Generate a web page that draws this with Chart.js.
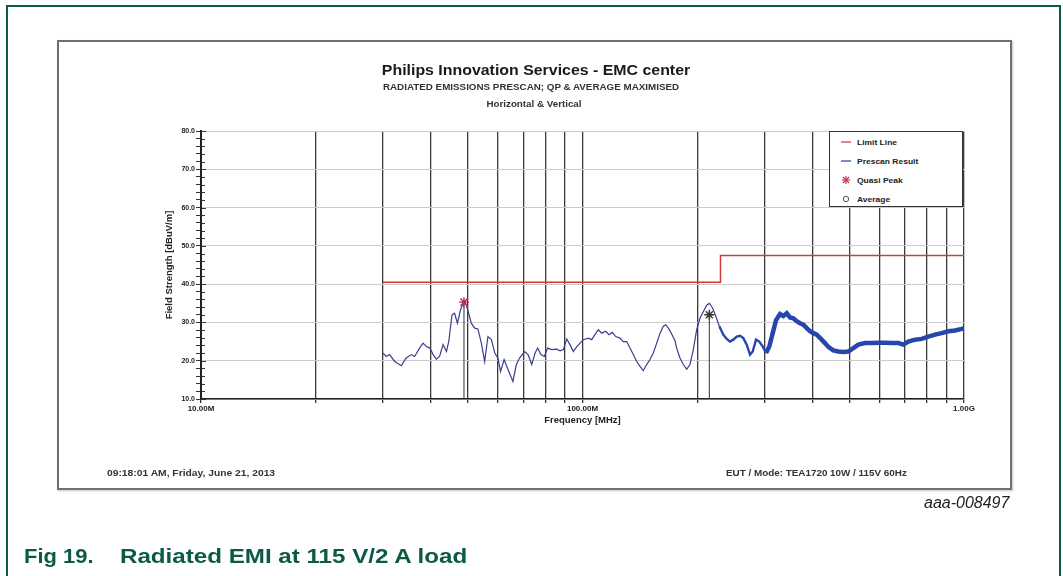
<!DOCTYPE html>
<html><head><meta charset="utf-8">
<script src="https://cdn.jsdelivr.net/npm/chart.js@4.4.1/dist/chart.umd.min.js"></script>
<style>
html,body{margin:0;padding:0;background:#fff;}
body{width:1063px;height:576px;position:relative;overflow:hidden;font-family:"Liberation Sans",Arial,sans-serif;}
#frame{position:absolute;left:6px;top:5px;width:1055px;height:620px;border:2px solid #0b5a48;box-sizing:border-box}
#box{position:absolute;left:57px;top:40px;width:955px;height:450px;border:2px solid #707070;box-sizing:border-box;box-shadow:1px 1px 2px #c8c8c8}
canvas{position:absolute;left:0;top:0}
.t{position:absolute;white-space:nowrap;color:#222;line-height:1;transform-origin:0 50%}
.c{transform-origin:50% 50%}
#legend{position:absolute;left:829px;top:131px;width:134px;height:76px;border:1px solid #333;background:#fff;box-sizing:border-box}
.li{position:absolute;left:0;height:10px;width:134px;font-size:7.5px;font-weight:bold;color:#222}
.li span.lab{position:absolute;left:27px;top:1px;transform:scaleX(1.13);transform-origin:0 50%}
.li svg{position:absolute;left:10px;top:0}
</style></head>
<body>
<div id="frame"></div>
<div id="box"></div>
<canvas id="c" width="1063" height="576"></canvas>
<div class="t c" style="left:536px;top:62px;font-size:15px;font-weight:bold;color:#1a1a1a;transform:translateX(-50%) scaleX(1.06)">Philips Innovation Services - EMC center</div>
<div class="t c" style="left:531px;top:83px;font-size:9px;font-weight:bold;color:#333;transform:translateX(-50%) scaleX(1.09)">RADIATED EMISSIONS PRESCAN; QP &amp; AVERAGE MAXIMISED</div>
<div class="t c" style="left:534px;top:100px;font-size:8.5px;font-weight:bold;color:#333;transform:translateX(-50%) scaleX(1.15)">Horizontal &amp; Vertical</div>
<div class="t" style="left:107px;top:469px;font-size:8.5px;font-weight:bold;color:#333;transform:scaleX(1.21)">09:18:01 AM, Friday, June 21, 2013</div>
<div class="t" style="left:726px;top:469px;font-size:8.5px;font-weight:bold;color:#333;transform:scaleX(1.16)">EUT / Mode: TEA1720 10W / 115V 60Hz</div>
<div class="t" style="left:924px;top:495px;font-size:16px;font-style:italic;color:#222">aaa-008497</div>
<div class="t" style="left:24px;top:545px;font-size:21px;font-weight:bold;color:#0b5a48;transform:scaleX(1.045)">Fig 19.</div>
<div class="t" style="left:120px;top:545px;font-size:21px;font-weight:bold;color:#0b5a48;transform:scaleX(1.15)">Radiated EMI at 115 V/2 A load</div>
<div id="legend">
  <div class="li" style="top:5px"><svg width="12" height="10"><line x1="1" y1="5" x2="11" y2="5" stroke="#d03535" stroke-width="1.2"/></svg><span class="lab">Limit Line</span></div>
  <div class="li" style="top:24px"><svg width="12" height="10"><line x1="1" y1="5" x2="11" y2="5" stroke="#333a8c" stroke-width="1.2"/></svg><span class="lab">Prescan Result</span></div>
  <div class="li" style="top:43px"><svg width="12" height="10"><g stroke="#c0304a" stroke-width="1.1"><line x1="6" y1="1" x2="6" y2="9"/><line x1="2" y1="5" x2="10" y2="5"/><line x1="3" y1="2" x2="9" y2="8"/><line x1="9" y1="2" x2="3" y2="8"/></g></svg><span class="lab">Quasi Peak</span></div>
  <div class="li" style="top:62px"><svg width="12" height="10"><circle cx="6" cy="5" r="2.7" fill="none" stroke="#555" stroke-width="1"/></svg><span class="lab">Average</span></div>
</div>
<script>
// ---- data ----
const traceFreqMHz = [30.0,30.6,31.2,32.2,33.5,34.5,35.6,36.3,37.4,38.2,39.0,39.8,40.6,41.4,42.2,43.1,44.0,44.6,45.5,46.2,47.0,47.9,48.9,49.6,50.3,51.1,52.2,53.2,54.3,55.4,56.5,57.7,58.9,60.0,61.0,62.3,63.8,65.7,67.1,68.4,70.5,72.0,73.6,75.1,76.3,77.8,79.4,81.0,83.0,85.6,87.3,89.1,90.9,92.7,94.6,96.6,98.5,100.5,103.6,105.7,107.8,110.0,112.3,115.0,117.3,119.7,122.2,125.4,127.9,130.6,133.2,135.9,138.7,141.5,144.3,147.3,150.3,153.3,156.5,159.7,162.9,165.3,167.9,171.3,174.8,176.6,180.1,183.7,187.6,191.3,195.2,199.2,203.2,207.3,211.6,215.0,219.4,223.8,228.4,233.9,238.8,243.6,248.5,253.7,258.7,264.0,269.4,274.9,279.4,285.0,290.7,296.8,302.7,308.8,315.2,321.6,329.4,336.0,343.0,349.9,357.0,364.4,371.7,379.2,387.0,394.8,402.7,411.1,423.6,432.1,440.9,454.4,468.3,482.7,497.4,512.7,528.4,550.3,572.8,596.1,620.8,646.4,672.8,693.4,714.5,744.0,774.6,806.0,839.5,874.0,909.5,947.1,986.2,1000];
const traceLevel = [22.0,21.1,21.6,19.8,18.7,20.7,21.6,21.1,23.3,24.6,23.7,23.3,21.6,20.4,21.1,24.2,22.4,25.0,32.0,32.4,29.8,33.3,35.5,34.6,32.4,29.8,28.5,28.3,24.6,19.8,26.3,25.5,22.0,20.7,17.2,20.3,17.7,14.6,19.0,20.7,22.4,21.6,19.0,22.0,23.3,21.6,21.1,23.3,22.9,23.0,22.6,22.9,25.7,24.2,22.4,23.7,24.6,25.5,25.9,25.5,26.8,28.1,27.2,27.7,26.8,27.4,26.3,25.9,25.0,25.0,23.3,21.6,19.8,18.5,17.4,19.0,20.3,22.0,24.6,27.2,29.0,29.4,28.5,27.0,25.2,23.2,20.7,19.0,17.8,19.0,22.9,28.1,31.1,32.8,34.5,35.0,33.7,31.5,29.0,26.8,25.7,25.0,25.5,26.3,26.5,25.9,24.2,21.6,22.4,25.5,25.0,23.7,22.0,23.7,27.2,30.6,32.2,31.7,32.4,31.3,31.1,30.3,29.8,29.4,28.5,27.7,27.2,26.8,25.5,24.6,23.6,22.7,22.4,22.3,22.4,23.3,24.2,24.6,24.6,24.7,24.7,24.6,24.6,24.2,25.0,25.5,25.7,26.3,26.8,27.2,27.7,27.9,28.3,28.5];
const limitFreqMHz = [30, 230, 230, 1000];
const limitLevel = [40.5, 40.5, 47.5, 47.5];
const qpFreqMHz = [48.9, 215.0];
const qpLevel = [35.3, 32.0];
const gridFreqMHz = [10,20,30,40,50,60,70,80,90,100,200,300,400,500,600,700,800,900,1000];
const xTickLabels = {10:'10.00M', 100:'100.00M', 1000:'1.00G'};
const yMin = 10, yMax = 80, yStep = 2;

// ---- build ----
const pts = (xs, ys) => xs.map((x, i) => ({x, y: ys[i]}));
const qpColors = ['#b8304a', '#3a3030'];
const dropLines = qpFreqMHz.map((f, i) => ({
  type: 'line', data: [{x: f, y: qpLevel[i]}, {x: f, y: yMin}],
  borderColor: '#444', borderWidth: 1.1, pointRadius: 0, order: 3
}));

const innerTicks = {
  id: 'innerTicks',
  afterDatasetsDraw(chart) {
    const {ctx, scales: {x, y}} = chart;
    ctx.save();
    ctx.strokeStyle = '#333';
    ctx.lineWidth = 1;
    for (let v = yMin; v <= yMax; v += yStep) {
      const py = Math.round(y.getPixelForValue(v)) + 0.5;
      ctx.beginPath();
      ctx.moveTo(x.left, py);
      ctx.lineTo(x.left + (v % 10 === 0 ? 5 : 4), py);
      ctx.stroke();
    }
    ctx.restore();
  }
};

new Chart(document.getElementById('c'), {
  type: 'line',
  data: {
    datasets: [
      {
        label: 'Limit Line', data: pts(limitFreqMHz, limitLevel),
        borderColor: '#d43a3a', borderWidth: 1.5, pointRadius: 0, order: 2
      },
      {
        label: 'Prescan Result', data: pts(traceFreqMHz, traceLevel),
        borderColor: '#3a3f8e', borderWidth: 1.2, pointRadius: 0, tension: 0, order: 1,
        segment: {
          borderWidth: c => { const f = c.p0.parsed.x; return f >= 300 ? 4.5 : (f >= 225 ? 2.4 : 1.2); },
          borderColor: c => { const f = c.p0.parsed.x; return f >= 225 ? '#2446ad' : '#3a3f8e'; }
        }
      },
      ...dropLines,
      {
        label: 'Quasi Peak', type: 'scatter', data: pts(qpFreqMHz, qpLevel),
        pointStyle: 'star', pointRadius: 5, pointBorderWidth: 1.4,
        pointBorderColor: qpColors, pointBackgroundColor: qpColors, showLine: false, order: 0
      }
    ]
  },
  options: {
    responsive: false, animation: false, devicePixelRatio: 1,
    layout: {padding: {left: 160, top: 131, right: 99, bottom: 147}},
    plugins: {legend: {display: false}, tooltip: {enabled: false}},
    scales: {
      x: {
        type: 'logarithmic', min: 10, max: 1000,
        afterBuildTicks: s => { s.ticks = gridFreqMHz.map(v => ({value: v})); },
        afterFit: s => { s.height = 30; },
        ticks: {
          autoSkip: false, maxRotation: 0, padding: 1,
          color: '#222', font: {family: 'Liberation Sans', size: 8, weight: 'bold'},
          callback: v => xTickLabels[v] || ''
        },
        grid: {color: '#3a3a3a', lineWidth: 1.3, tickLength: 4, tickColor: '#333', drawTicks: true},
        border: {display: true, color: '#222', width: 1.5},
        title: {display: true, text: 'Frequency [MHz]', color: '#222', padding: {top: 0, bottom: 3},
          font: {family: 'Liberation Sans', size: 9.5, weight: 'bold'}}
      },
      y: {
        min: yMin, max: yMax,
        afterBuildTicks: s => { const t = []; for (let v = yMin; v <= yMax; v += yStep) t.push({value: v}); s.ticks = t; },
        afterFit: s => { s.width = 41; },
        ticks: {
          autoSkip: false, padding: 1, color: '#222',
          font: {family: 'Liberation Sans', size: 7, weight: 'bold'},
          callback: v => (v % 10 === 0 ? v.toFixed(1) : '')
        },
        grid: {
          color: c => (c.tick && c.tick.value % 10 === 0 ? '#cdcdcd' : 'rgba(0,0,0,0)'),
          tickColor: '#333', tickLength: 5, lineWidth: 1
        },
        border: {display: true, color: '#222', width: 2},
        title: {display: true, text: 'Field Strength [dBuV/m]', color: '#222', padding: {top: 4, bottom: 0},
          font: {family: 'Liberation Sans', size: 9.5, weight: 'bold'}}
      }
    }
  },
  plugins: [innerTicks]
});
</script>
</body></html>
